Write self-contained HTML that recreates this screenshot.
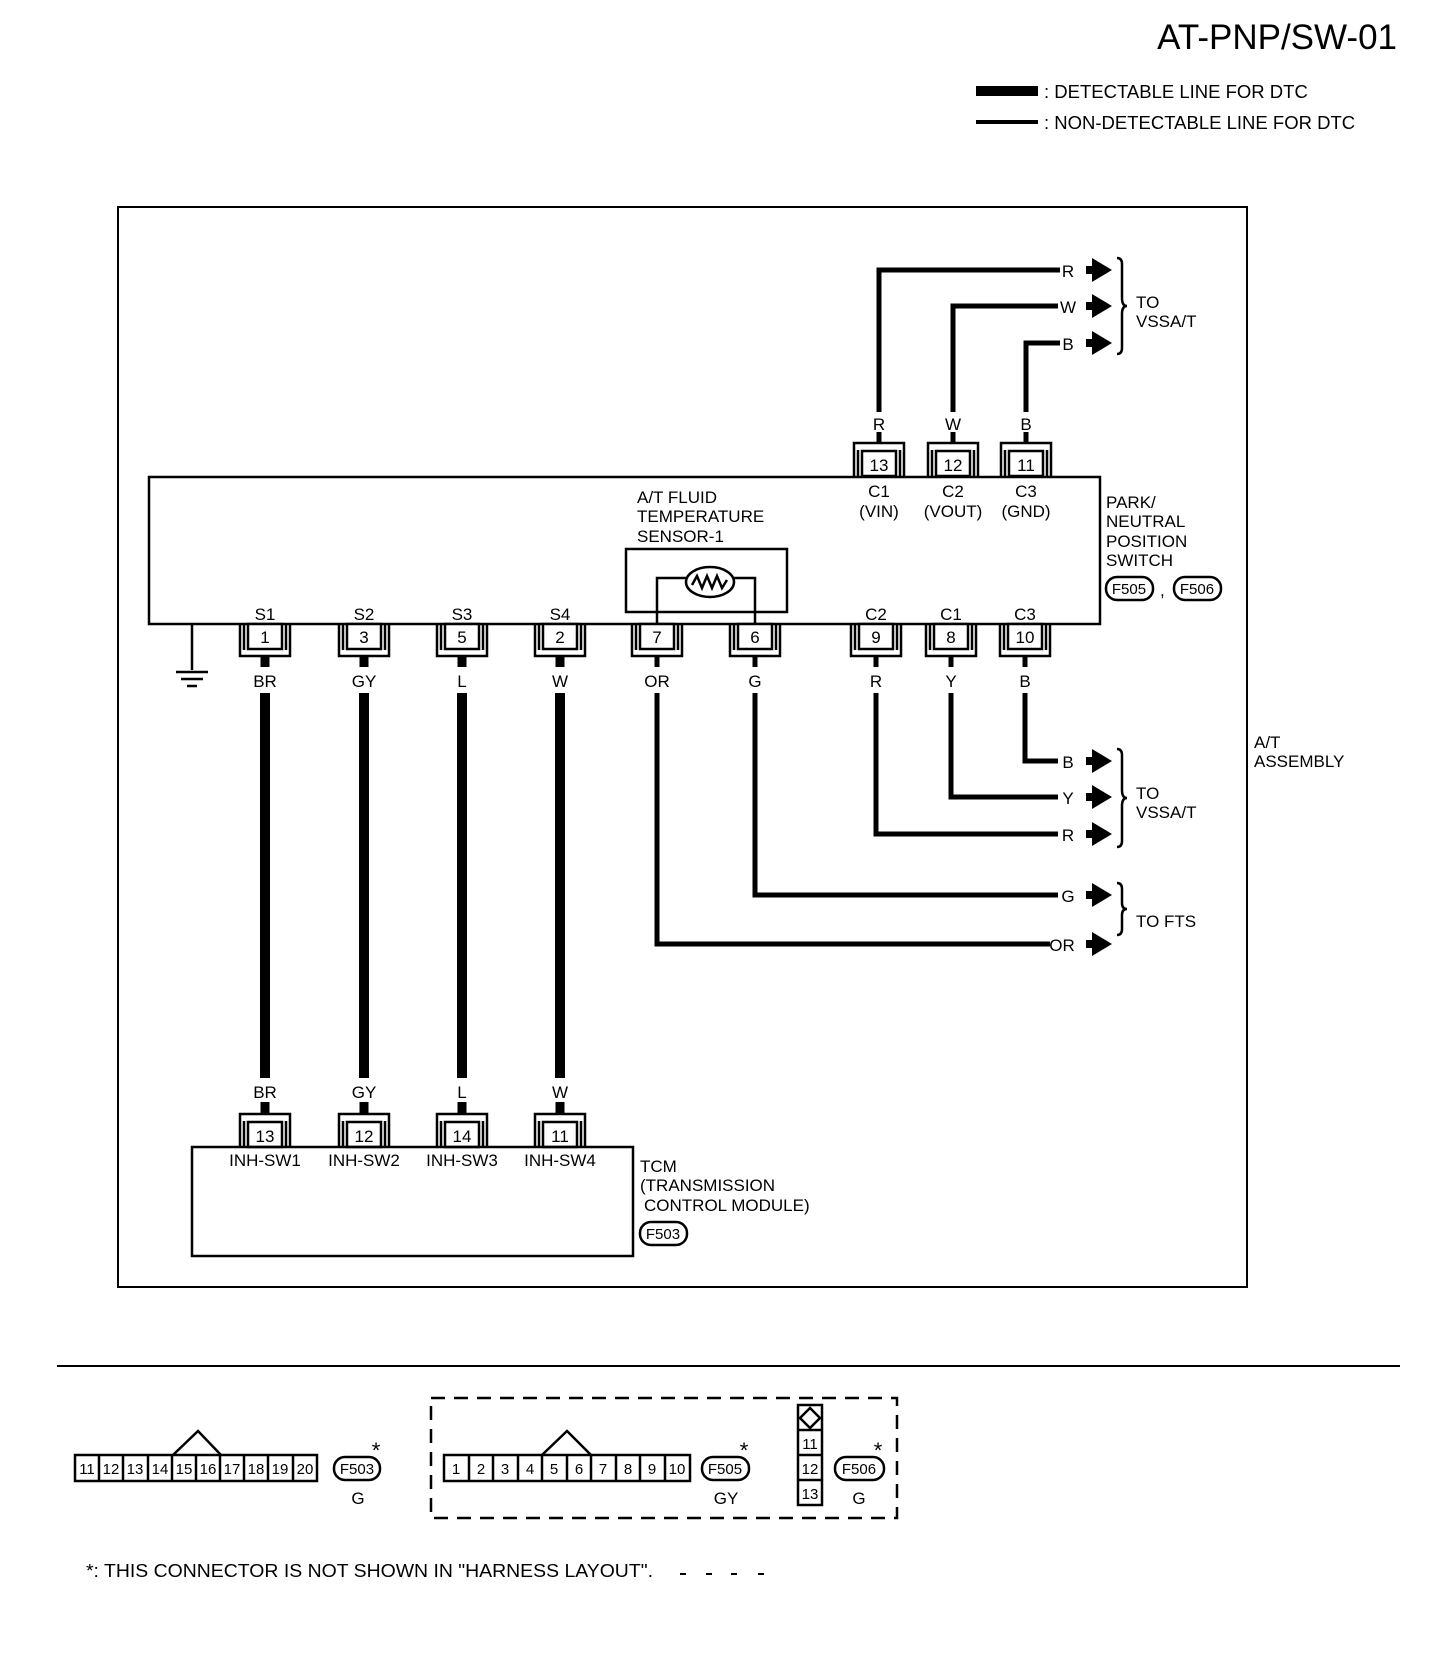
<!DOCTYPE html>
<html><head><meta charset="utf-8"><style>
html,body{margin:0;padding:0;background:#fff;}
svg{display:block;}
text{font-family:"Liberation Sans",sans-serif;fill:#000;}
</style></head><body>
<svg width="1456" height="1674" viewBox="0 0 1456 1674" xmlns="http://www.w3.org/2000/svg">
<defs>
<g id="ctop" fill="none" stroke="#000" stroke-width="2.5">
<path d="M-25,33 V0 H25 V33"/>
<path d="M-21,33 V7 M21,33 V7"/>
<rect x="-17" y="8" width="34" height="25" fill="#fff"/>
</g>
<g id="cbot" fill="none" stroke="#000" stroke-width="2.5">
<path d="M-25,0 V32 H25 V0"/>
<path d="M-21,0 V26 M21,0 V26"/>
<rect x="-17" y="0" width="34" height="25" fill="#fff"/>
</g>
<g id="arr"><rect x="-26" y="-4" width="10" height="8"/><polygon points="-20,-12 0,0 -20,12"/></g>
</defs>

<!-- title / legend -->
<text x="1397" y="49" font-size="35" text-anchor="end">AT-PNP/SW-01</text>
<rect x="976" y="86" width="62" height="10"/>
<rect x="976" y="120" width="62" height="4"/>
<text x="1044" y="98" font-size="18.5">: DETECTABLE LINE FOR DTC</text>
<text x="1044" y="129" font-size="18.5">: NON-DETECTABLE LINE FOR DTC</text>

<!-- frame -->
<rect x="118" y="207" width="1129" height="1080" fill="none" stroke="#000" stroke-width="2"/>
<!-- main switch box -->
<rect x="149" y="477" width="951" height="147" fill="none" stroke="#000" stroke-width="2.5"/>
<!-- sensor box -->
<rect x="626" y="549" width="161" height="63" fill="none" stroke="#000" stroke-width="2.5"/>
<path d="M657,624 V578 H686 M734,578 H755 V624" fill="none" stroke="#000" stroke-width="2.5"/>
<ellipse cx="710" cy="582" rx="24" ry="15" fill="#fff" stroke="#000" stroke-width="2.5"/>
<path d="M692,585 L697,576 L702,588 L707,576 L712,588 L717,576 L722,588 L727,580" fill="none" stroke="#000" stroke-width="2.5"/>
<g font-size="17">
<text x="637" y="503">A/T FLUID</text>
<text x="637" y="522">TEMPERATURE</text>
<text x="637" y="542">SENSOR-1</text>
</g>

<!-- top connectors -->
<g font-size="17" text-anchor="middle">
<use href="#ctop" x="879" y="443"/><text x="879" y="471">13</text>
<use href="#ctop" x="953" y="443"/><text x="953" y="471">12</text>
<use href="#ctop" x="1026" y="443"/><text x="1026" y="471">11</text>
<text x="879" y="497">C1</text><text x="879" y="517">(VIN)</text>
<text x="953" y="497">C2</text><text x="953" y="517">(VOUT)</text>
<text x="1026" y="497">C3</text><text x="1026" y="517">(GND)</text>
<text x="879" y="430">R</text><text x="953" y="430">W</text><text x="1026" y="430">B</text>
</g>
<g fill="none" stroke="#000" stroke-width="5">
<path d="M879,443 V432 M879,412 V270 H1060"/>
<path d="M953,443 V432 M953,412 V306 H1058"/>
<path d="M1026,443 V432 M1026,412 V343 H1060"/>
</g>
<g font-size="17" text-anchor="middle">
<text x="1068" y="277">R</text><text x="1068" y="313">W</text><text x="1068" y="350">B</text>
</g>
<use href="#arr" x="1112" y="270"/><use href="#arr" x="1112" y="306"/><use href="#arr" x="1112" y="343"/>
<path d="M1117,258 q5,0 5,6 v34 q0,8 5,8 q-5,0 -5,8 v34 q0,6 -5,6" fill="none" stroke="#000" stroke-width="2.5"/>
<text x="1136" y="308" font-size="17">TO</text>
<text x="1136" y="327" font-size="17">VSSA/T</text>

<!-- park neutral label -->
<g font-size="17">
<text x="1106" y="508">PARK/</text>
<text x="1106" y="527">NEUTRAL</text>
<text x="1106" y="547">POSITION</text>
<text x="1106" y="566">SWITCH</text>
</g>
<rect x="1106" y="577" width="47" height="23" rx="11" fill="none" stroke="#000" stroke-width="2.5"/>
<text x="1129" y="594" font-size="15" text-anchor="middle">F505</text>
<text x="1160" y="596" font-size="17">,</text>
<rect x="1174" y="577" width="47" height="23" rx="11" fill="none" stroke="#000" stroke-width="2.5"/>
<text x="1197" y="594" font-size="15" text-anchor="middle">F506</text>

<!-- bottom connectors of switch -->
<g font-size="17" text-anchor="middle">
<text x="265" y="620">S1</text><text x="364" y="620">S2</text><text x="462" y="620">S3</text><text x="560" y="620">S4</text>
<text x="876" y="620">C2</text><text x="951" y="620">C1</text><text x="1025" y="620">C3</text>
<use href="#cbot" x="265" y="624"/><text x="265" y="643">1</text>
<use href="#cbot" x="364" y="624"/><text x="364" y="643">3</text>
<use href="#cbot" x="462" y="624"/><text x="462" y="643">5</text>
<use href="#cbot" x="560" y="624"/><text x="560" y="643">2</text>
<use href="#cbot" x="657" y="624"/><text x="657" y="643">7</text>
<use href="#cbot" x="755" y="624"/><text x="755" y="643">6</text>
<use href="#cbot" x="876" y="624"/><text x="876" y="643">9</text>
<use href="#cbot" x="951" y="624"/><text x="951" y="643">8</text>
<use href="#cbot" x="1025" y="624"/><text x="1025" y="643">10</text>
<text x="265" y="687">BR</text><text x="364" y="687">GY</text><text x="462" y="687">L</text><text x="560" y="687">W</text>
<text x="657" y="687">OR</text><text x="755" y="687">G</text><text x="876" y="687">R</text><text x="951" y="687">Y</text><text x="1025" y="687">B</text>
</g>
<!-- stubs -->
<g stroke="#000" stroke-width="9">
<path d="M265,656 V667 M364,656 V667 M462,656 V667 M560,656 V667"/>
</g>
<g stroke="#000" stroke-width="5">
<path d="M657,656 V667 M755,656 V667 M876,656 V667 M951,656 V667 M1025,656 V667"/>
</g>
<!-- thick wires -->
<g stroke="#000" stroke-width="10">
<path d="M265,693 V1078 M364,693 V1078 M462,693 V1078 M560,693 V1078"/>
</g>
<!-- thin right wires -->
<g fill="none" stroke="#000" stroke-width="5">
<path d="M1025,693 V761 H1058"/>
<path d="M951,693 V797 H1058"/>
<path d="M876,693 V834 H1058"/>
<path d="M755,693 V895 H1058"/>
<path d="M657,693 V944 H1050"/>
</g>
<g font-size="17" text-anchor="middle">
<text x="1068" y="768">B</text><text x="1068" y="804">Y</text><text x="1068" y="841">R</text>
<text x="1068" y="902">G</text><text x="1062" y="951">OR</text>
</g>
<use href="#arr" x="1112" y="761"/><use href="#arr" x="1112" y="797"/><use href="#arr" x="1112" y="834"/>
<use href="#arr" x="1112" y="895"/><use href="#arr" x="1112" y="944"/>
<path d="M1117,749 q5,0 5,6 v35 q0,8 5,8 q-5,0 -5,8 v35 q0,6 -5,6" fill="none" stroke="#000" stroke-width="2.5"/>
<text x="1136" y="799" font-size="17">TO</text>
<text x="1136" y="818" font-size="17">VSSA/T</text>
<path d="M1117,883 q5,0 5,6 v14 q0,6 5,6 q-5,0 -5,6 v14 q0,6 -5,6" fill="none" stroke="#000" stroke-width="2.5"/>
<text x="1136" y="927" font-size="17">TO FTS</text>

<text x="1254" y="748" font-size="17">A/T</text>
<text x="1254" y="767" font-size="17">ASSEMBLY</text>

<!-- ground -->
<path d="M192,624 V670 M176,672 H208 M181,679 H203 M187,686 H197" stroke="#000" stroke-width="2.5" fill="none"/>

<!-- TCM -->
<g font-size="17" text-anchor="middle">
<text x="265" y="1098">BR</text><text x="364" y="1098">GY</text><text x="462" y="1098">L</text><text x="560" y="1098">W</text>
</g>
<g stroke="#000" stroke-width="9">
<path d="M265,1102 V1114 M364,1102 V1114 M462,1102 V1114 M560,1102 V1114"/>
</g>
<g font-size="17" text-anchor="middle">
<use href="#ctop" x="265" y="1114"/><text x="265" y="1142">13</text>
<use href="#ctop" x="364" y="1114"/><text x="364" y="1142">12</text>
<use href="#ctop" x="462" y="1114"/><text x="462" y="1142">14</text>
<use href="#ctop" x="560" y="1114"/><text x="560" y="1142">11</text>
</g>
<rect x="192" y="1147" width="441" height="109" fill="none" stroke="#000" stroke-width="2.5"/>
<g font-size="17" text-anchor="middle">
<text x="265" y="1166">INH-SW1</text><text x="364" y="1166">INH-SW2</text><text x="462" y="1166">INH-SW3</text><text x="560" y="1166">INH-SW4</text>
</g>
<g font-size="17">
<text x="640" y="1172">TCM</text>
<text x="640" y="1191">(TRANSMISSION</text>
<text x="644" y="1211">CONTROL MODULE)</text>
</g>
<rect x="640" y="1222" width="47" height="23" rx="11" fill="none" stroke="#000" stroke-width="2.5"/>
<text x="663" y="1239" font-size="15" text-anchor="middle">F503</text>

<!-- separator -->
<rect x="57" y="1365" width="1343" height="2"/>

<!-- F503 connector -->
<g fill="none" stroke="#000" stroke-width="2.5">
<rect x="75" y="1455" width="242" height="26"/>
<path d="M99,1455V1481 M123,1455V1481 M148,1455V1481 M172,1455V1481 M196,1455V1481 M220,1455V1481 M244,1455V1481 M268,1455V1481 M293,1455V1481"/>
<path d="M173,1455 L198,1431 L221,1455"/>
<rect x="334" y="1457" width="46" height="23" rx="11"/>
</g>
<g font-size="15" text-anchor="middle">
<text x="87" y="1474">11</text><text x="111" y="1474">12</text><text x="135" y="1474">13</text><text x="160" y="1474">14</text><text x="184" y="1474">15</text>
<text x="208" y="1474">16</text><text x="232" y="1474">17</text><text x="256" y="1474">18</text><text x="280" y="1474">19</text><text x="305" y="1474">20</text>
<text x="357" y="1474">F503</text>
</g>
<text x="376" y="1458" font-size="22" text-anchor="middle">*</text>
<text x="358" y="1504" font-size="17" text-anchor="middle">G</text>

<!-- dashed box -->
<rect x="431" y="1398" width="466" height="120" fill="none" stroke="#000" stroke-width="2.5" stroke-dasharray="14,9"/>
<g fill="none" stroke="#000" stroke-width="2.5">
<rect x="444" y="1455" width="246" height="26"/>
<path d="M469,1455V1481 M493,1455V1481 M518,1455V1481 M542,1455V1481 M567,1455V1481 M591,1455V1481 M616,1455V1481 M640,1455V1481 M665,1455V1481"/>
<path d="M542,1455 L567,1431 L591,1455"/>
<rect x="702" y="1457" width="47" height="23" rx="11"/>
<rect x="798" y="1405" width="24" height="100"/>
<path d="M798,1430H822 M798,1455H822 M798,1480H822"/>
<path d="M810,1408 L820,1418 L810,1428 L800,1418 Z"/>
<rect x="835" y="1457" width="49" height="23" rx="11"/>
</g>
<g font-size="15" text-anchor="middle">
<text x="456" y="1474">1</text><text x="481" y="1474">2</text><text x="505" y="1474">3</text><text x="530" y="1474">4</text><text x="554" y="1474">5</text>
<text x="579" y="1474">6</text><text x="603" y="1474">7</text><text x="628" y="1474">8</text><text x="652" y="1474">9</text><text x="677" y="1474">10</text>
<text x="725" y="1474">F505</text>
<text x="810" y="1449">11</text><text x="810" y="1474">12</text><text x="810" y="1499">13</text>
<text x="859" y="1474">F506</text>
</g>
<text x="744" y="1458" font-size="22" text-anchor="middle">*</text>
<text x="878" y="1458" font-size="22" text-anchor="middle">*</text>
<text x="726" y="1504" font-size="17" text-anchor="middle">GY</text>
<text x="859" y="1504" font-size="17" text-anchor="middle">G</text>

<!-- footnote -->
<text x="86" y="1577" font-size="18.5" textLength="567" lengthAdjust="spacingAndGlyphs">*: THIS CONNECTOR IS NOT SHOWN IN "HARNESS LAYOUT".</text>
<path d="M680,1574h6 M706,1574h6 M731,1574h6 M758,1574h6" stroke="#000" stroke-width="2"/>
</svg>
</body></html>
